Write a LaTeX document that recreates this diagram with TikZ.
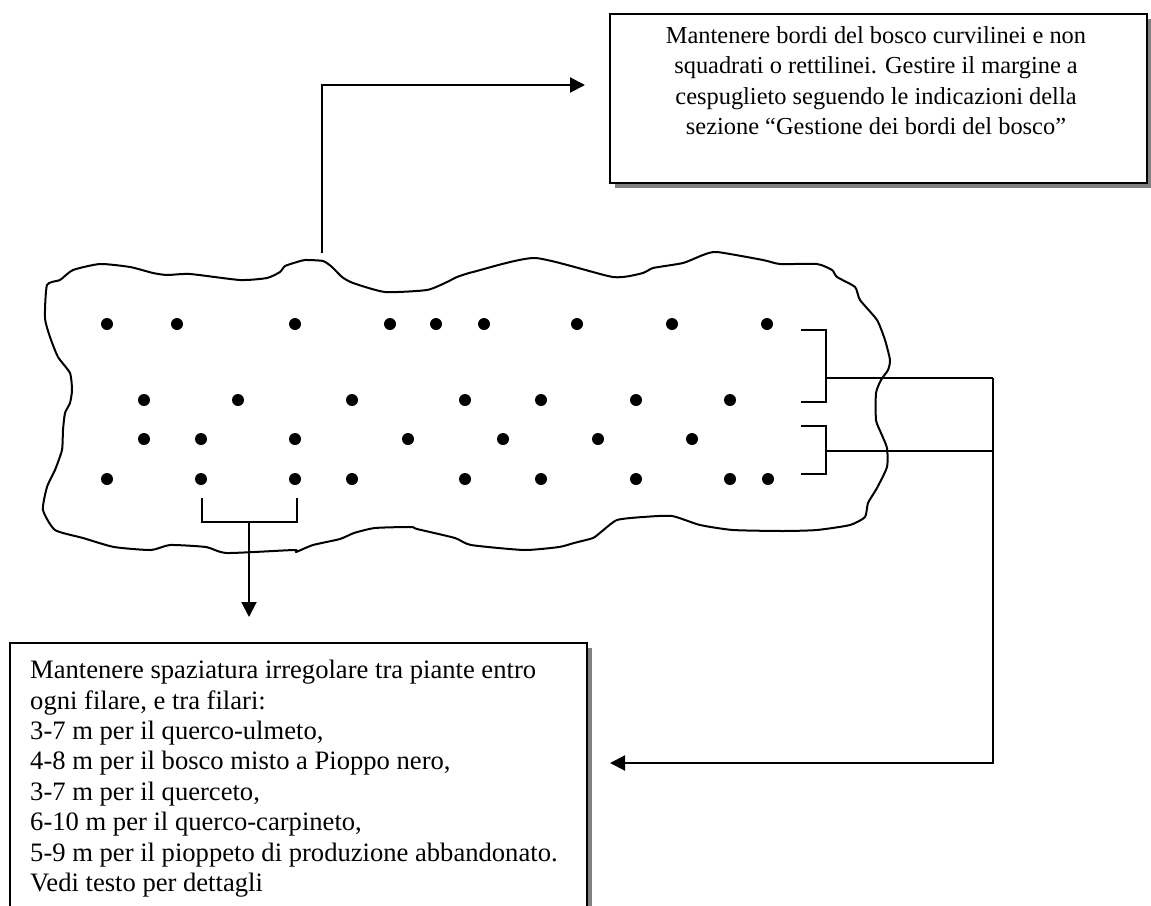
\documentclass[tikz,border=0pt]{standalone}
\usepackage{fontspec}
\setmainfont{Liberation Serif}
\usetikzlibrary{arrows.meta,shadows}
\begin{document}
\begin{tikzpicture}[x=1pt,y=-1pt,
  ln/.style={line width=2pt},
  arr/.style={line width=2pt,-{Triangle[length=15pt,width=15pt]}},
  txtbox/.style={draw,line width=1.8pt,fill=white,inner sep=0pt,
    drop shadow={shadow xshift=5pt,shadow yshift=-5pt,opacity=1,fill=gray}},
  txt/.style={inner sep=0pt,font=\fontsize{26.6}{30.4}\selectfont},
  toptxt/.style={inner sep=0pt,font=\fontsize{24.4}{30.5}\selectfont}]
\useasboundingbox (0,0) rectangle (1151,905);

% boxes
\node[txtbox, anchor=north west, minimum width=537pt, minimum height=169pt] (topbox) at (609,13) {};
\node[toptxt, anchor=north, align=center] (toptext) at (876,26)
 {Mantenere bordi del bosco curvilinei e non\\
  squadrati o rettilinei. Gestire il margine a\\
  cespuglieto seguendo le indicazioni della\\
  sezione “Gestione dei bordi del bosco”};

\node[txtbox, anchor=north west, minimum width=577pt, minimum height=300pt] (botbox) at (9,642) {};
\node[txt, anchor=north west, align=left] (bottext) at (30,660)
 {Mantenere spaziatura irregolare tra piante entro\\
  ogni filare, e tra filari:\\
  3-7 m per il querco-ulmeto,\\
  4-8 m per il bosco misto a Pioppo nero,\\
  3-7 m per il querceto,\\
  6-10 m per il querco-carpineto,\\
  5-9 m per il pioppeto di produzione abbandonato.\\
  Vedi testo per dettagli};

% wood outline
\draw[ln, line join=round] plot[smooth cycle, tension=0.35] coordinates {
 (47,285) (60,280) (73,270) (100,264) (130,267) (153,273) (167,275) (190,274)
 (240,280) (267,278) (280,272) (285,266) (297,262) (305,260) (323,261) (332,267)
 (342,277) (353,283) (385,292) (427,290) (447,282) (457,277) (473,272) (535,258)
 (613,277) (643,273) (653,268) (683,263) (703,255) (717,252) (763,260) (780,264)
 (817,264) (832,270) (837,277) (855,287) (860,300) (877,320) (885,340) (890,360)
 (888,370) (881,380) (876,393) (876,420) (881,433) (887,448) (887,467) (877,488)
 (868,503) (865,517) (850,525) (817,530) (783,531) (733,530) (700,525) (672,516)
 (643,517) (617,520) (601,532) (593,538) (574,543) (559,547) (524,550) (471,545)
 (455,538) (417,529) (411,527) (375,528) (354,533) (340,539) (313,545) (296,552)
 (294,550) (227,553) (206,547) (170,545) (151,550) (114,547) (83,538) (55,530)
 (43,510) (47,487) (55,470) (62,450) (63,430) (65,413) (70,403) (72,390)
 (70,373) (58,357) (50,337) (45,318) };

% trees
\foreach \x in {107,177,295,390,436,484,577,672,767} \fill (\x,324) circle (6pt);
\foreach \x in {144,238,352,465,541,636,730} \fill (\x,400) circle (6pt);
\foreach \x in {144,201,295,408,503,598,692} \fill (\x,439) circle (6pt);
\foreach \x in {107,201,295,352,465,541,636,730,768} \fill (\x,479) circle (6pt);

% top connector
\coordinate (bump) at (322,253);
\coordinate (tipT) at (585,85);
\draw[arr] (bump) |- (tipT);

% bottom bracket and arrow
\draw[ln] (202,498) -- (202,522) -- (297,522) -- (297,498);
\coordinate (bstem) at (249,522);
\coordinate (tipB) at (249,617);
\draw[arr] (bstem) -- (tipB);

% right brackets and arrow
\draw[ln] (801,330) -- (826,330) -- (826,402) -- (801,402);
\draw[ln] (801,426) -- (826,426) -- (826,474) -- (801,474);
\coordinate (ub) at (826,378);
\coordinate (lb) at (826,451);
\coordinate (rj) at (993,378);
\coordinate (rl) at (993,451);
\coordinate (tipR) at (610,763);
\draw[ln] (ub) -- (rj);
\draw[ln] (lb) -- (rl);
\draw[arr] (rj) |- (tipR);
\end{tikzpicture}
\end{document}
